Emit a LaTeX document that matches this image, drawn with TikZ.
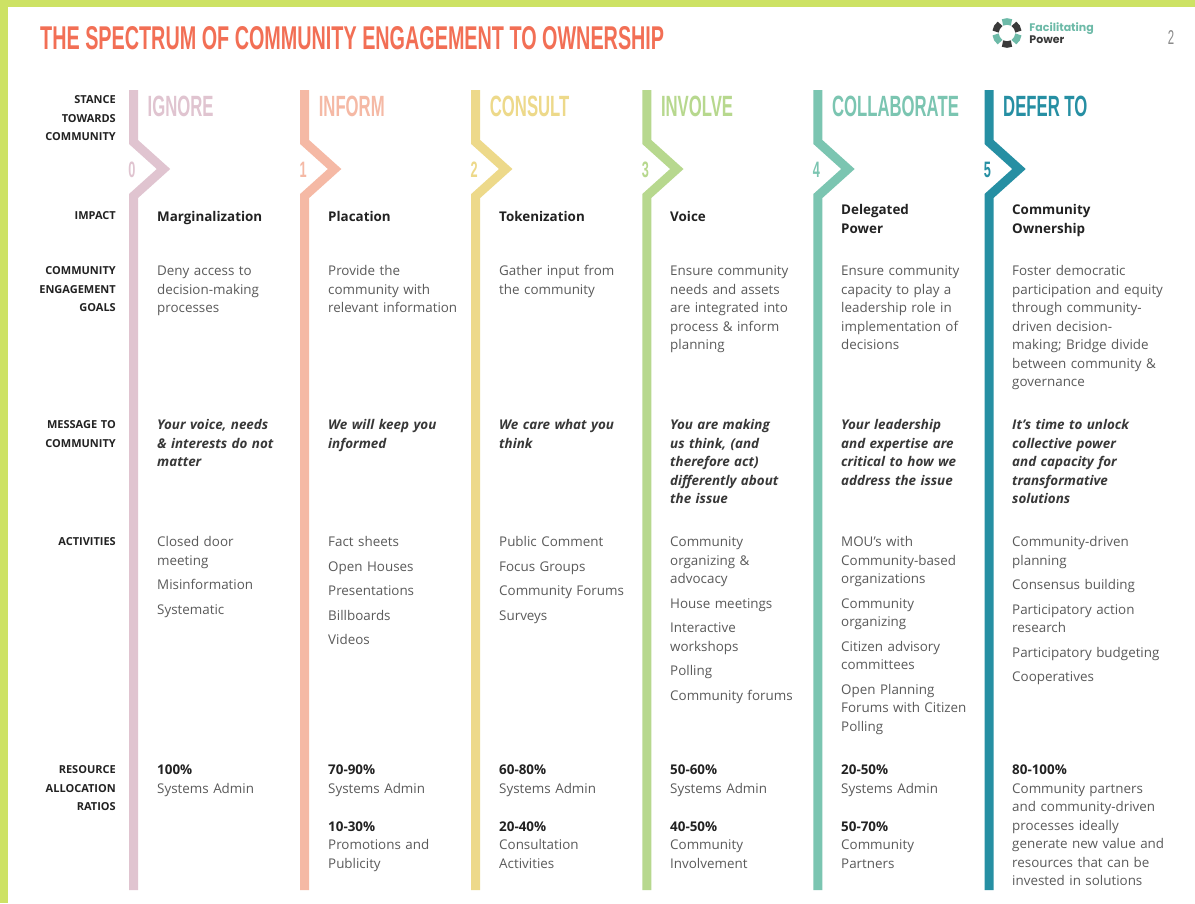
\documentclass[tikz,border=0pt]{standalone}
\usepackage{fontspec}
\setmainfont{Open Sans}
\newfontfamily\headfont{Liberation Sans}
\newfontfamily\logofont{Poppins}
\usepackage{graphicx}
\usepackage{xcolor}
\usepackage{tikz}
\usetikzlibrary{positioning}

\definecolor{borderC}{HTML}{CDE264}
\definecolor{titleC}{HTML}{F26F55}
\definecolor{ignoreC}{HTML}{E0C4D0}
\definecolor{informC}{HTML}{F5B9A5}
\definecolor{consultC}{HTML}{EDD98A}
\definecolor{involveC}{HTML}{B7D88E}
\definecolor{collabC}{HTML}{7BC5B1}
\definecolor{deferC}{HTML}{268FA3}
\definecolor{darkC}{HTML}{222222}
\definecolor{bodyC}{HTML}{5A5A5A}
\definecolor{logoTeal}{HTML}{6DBAA8}
\definecolor{logoDark}{HTML}{3A3A3A}
\definecolor{pageC}{HTML}{8A8A8A}

\pgfdeclareradialshading{panelshade}{\pgfpoint{0bp}{0bp}}{color(0bp)=(white); color(40bp)=(white); color(50bp)=(black!7); color(100bp)=(black!7)}

\newcommand\narrowtxt[1]{\scalebox{0.57}[1]{#1}}
\newcommand\pctval[1]{\textcolor{darkC}{\textbf{#1}}}

\begin{document}
\begin{tikzpicture}[x=1pt, y=-1pt,
    stance/.style={anchor=west, inner sep=0pt, font=\headfont\bfseries\fontsize{29.3}{30}\selectfont},
    stepnum/.style={inner sep=0pt, font=\headfont\bfseries\fontsize{22.3}{23}\selectfont},
    rowlabel/.style={anchor=north east, inner sep=0pt, text width=110pt, align=right, text=darkC, font=\fontsize{11}{18.5}\selectfont\bfseries, execute at begin node=\strut},
    bodybox/.style={anchor=north west, inner sep=0pt, text width=170pt, align=left, text=bodyC, font=\fontsize{13.4}{18.5}\selectfont, execute at begin node=\strut},
    impactbox/.style={bodybox, text=darkC, font=\fontsize{13.4}{18.5}\selectfont\bfseries},
    messagebox/.style={bodybox, text=darkC!90, font=\fontsize{13.4}{18.5}\selectfont\bfseries\itshape}]
    % Background and frame
    \useasboundingbox (0,0) rectangle (1195,903);
    \fill[white] (0,0) rectangle (1195,903);
    \shade[shading=panelshade] (8,76) rectangle (1195,903);
    \fill[borderC] (0,0) rectangle (1195,7);
    \fill[borderC] (0,0) rectangle (8,903);

    % Title, logo and page number
    \node (title) [anchor=west, inner sep=0pt, text=titleC] at (40,38.5) {\resizebox{624pt}{23pt}{\headfont\bfseries THE SPECTRUM OF COMMUNITY ENGAGEMENT TO OWNERSHIP}};
    \node (logo) [circle, minimum size=30pt, inner sep=0pt] at (1007,33) {};
    \foreach \a/\c in {-90/logoTeal, -30/logoDark, 30/logoTeal, 90/logoDark, 150/logoTeal, 210/logoDark}
        \draw[\c, line width=6.5pt] (logo.center) ++(\a-23:11.5) arc[start angle=\a-23, end angle=\a+23, radius=11.5];
    \node (brand) [right=7pt of logo, inner sep=0pt, align=left, font=\logofont\bfseries\fontsize{11}{10.5}\selectfont] {\textcolor{logoTeal}{Facilitating}\\\textcolor{logoDark}{Power}};
    \node (page) [inner sep=0pt, text=pageC, font=\headfont\fontsize{20}{20}\selectfont] at (1171,38) {\narrowtxt{2}};

    % Columns with chevrons
    \foreach \cx/\col/\num/\word in {133.5/ignoreC/0/IGNORE, 304.6/informC/1/INFORM, 475.7/consultC/2/CONSULT, 646.8/involveC/3/INVOLVE, 817.9/collabC/4/COLLABORATE, 989/deferC/5/DEFER TO}{
        \draw[\col, line width=9pt, line join=miter] (\cx,90) -- (\cx,142) -- (\cx+30,169) -- (\cx,196) -- (\cx,890);
        \node (num\num) [stepnum, text=\col] at (\cx-1.5,170) {\narrowtxt{\num}};
        \node (stance\num) [stance, text=\col] at (\cx+14,106) {\narrowtxt{\word}};
    }

    % Row labels
    \node (stancelbl) [rowlabel] at (116,90.6) {STANCE\\TOWARDS\\COMMUNITY};
    \node (impactlbl) [rowlabel] at (116,206.6) {IMPACT};
    \node (goalslbl) [rowlabel] at (116,261.6) {COMMUNITY\\ENGAGEMENT\\GOALS};
    \node (messagelbl) [rowlabel] at (116,415.6) {MESSAGE TO\\COMMUNITY};
    \node (activitieslbl) [rowlabel] at (116,532.6) {ACTIVITIES};
    \node (ratioslbl) [rowlabel] at (116,760.6) {RESOURCE\\ALLOCATION\\RATIOS};

    % Impact
    \node (impact0) [impactbox] at (157,208) {Marginalization};
    \node (impact1) [impactbox] at (328,208) {Placation};
    \node (impact2) [impactbox] at (499,208) {Tokenization};
    \node (impact3) [impactbox] at (670,208) {Voice};
    \node (impact4) [impactbox] at (841,201.5) {Delegated\\Power};
    \node (impact5) [impactbox] at (1012,201.5) {Community\\Ownership};

    % Community engagement goals
    \node (goals0) [bodybox] at (157,262.5) {Deny access to\\decision-making\\processes};
    \node (goals1) [bodybox] at (328,262.5) {Provide the\\community with\\relevant information};
    \node (goals2) [bodybox] at (499,262.5) {Gather input from\\the community};
    \node (goals3) [bodybox] at (670,262.5) {Ensure community\\needs and assets\\are integrated into\\process \& inform\\planning};
    \node (goals4) [bodybox] at (841,262.5) {Ensure community\\capacity to play a\\leadership role in\\implementation of\\decisions};
    \node (goals5) [bodybox] at (1012,262.5) {Foster democratic\\participation and equity\\through community-\\driven decision-\\making; Bridge divide\\between community \&\\governance};

    % Message to community
    \node (message0) [messagebox] at (157,416.5) {Your voice, needs\\\& interests do not\\matter};
    \node (message1) [messagebox] at (328,416.5) {We will keep you\\informed};
    \node (message2) [messagebox] at (499,416.5) {We care what you\\think};
    \node (message3) [messagebox] at (670,416.5) {You are making\\us think, (and\\therefore act)\\differently about\\the issue};
    \node (message4) [messagebox] at (841,416.5) {Your leadership\\and expertise are\\critical to how we\\address the issue};
    \node (message5) [messagebox] at (1012,416.5) {It’s time to unlock\\collective power\\and capacity for\\transformative\\solutions};

    % Activities
    \node (activities0) [bodybox] at (157,533.5) {Closed door\\meeting\\[6pt]Misinformation\\[6pt]Systematic};
    \node (activities1) [bodybox] at (328,533.5) {Fact sheets\\[6pt]Open Houses\\[6pt]Presentations\\[6pt]Billboards\\[6pt]Videos};
    \node (activities2) [bodybox] at (499,533.5) {Public Comment\\[6pt]Focus Groups\\[6pt]Community Forums\\[6pt]Surveys};
    \node (activities3) [bodybox] at (670,533.5) {Community\\organizing \&\\advocacy\\[6pt]House meetings\\[6pt]Interactive\\workshops\\[6pt]Polling\\[6pt]Community forums};
    \node (activities4) [bodybox] at (841,533.5) {MOU’s with\\Community-based\\organizations\\[6pt]Community\\organizing\\[6pt]Citizen advisory\\committees\\[6pt]Open Planning\\Forums with Citizen\\Polling};
    \node (activities5) [bodybox] at (1012,533.5) {Community-driven\\planning\\[6pt]Consensus building\\[6pt]Participatory action\\research\\[6pt]Participatory budgeting\\[6pt]Cooperatives};

    % Resource allocation ratios
    \node (ratios0) [bodybox] at (157,761.5) {\pctval{100\%}\\Systems Admin};
    \node (ratios1) [bodybox] at (328,761.5) {\pctval{70-90\%}\\Systems Admin\\[19.5pt]\pctval{10-30\%}\\Promotions and\\Publicity};
    \node (ratios2) [bodybox] at (499,761.5) {\pctval{60-80\%}\\Systems Admin\\[19.5pt]\pctval{20-40\%}\\Consultation\\Activities};
    \node (ratios3) [bodybox] at (670,761.5) {\pctval{50-60\%}\\Systems Admin\\[19.5pt]\pctval{40-50\%}\\Community\\Involvement};
    \node (ratios4) [bodybox] at (841,761.5) {\pctval{20-50\%}\\Systems Admin\\[19.5pt]\pctval{50-70\%}\\Community\\Partners};
    \node (ratios5) [bodybox] at (1012,761.5) {\pctval{80-100\%}\\Community partners\\and community-driven\\processes ideally\\generate new value and\\resources that can be\\invested in solutions};
\end{tikzpicture}
\end{document}
